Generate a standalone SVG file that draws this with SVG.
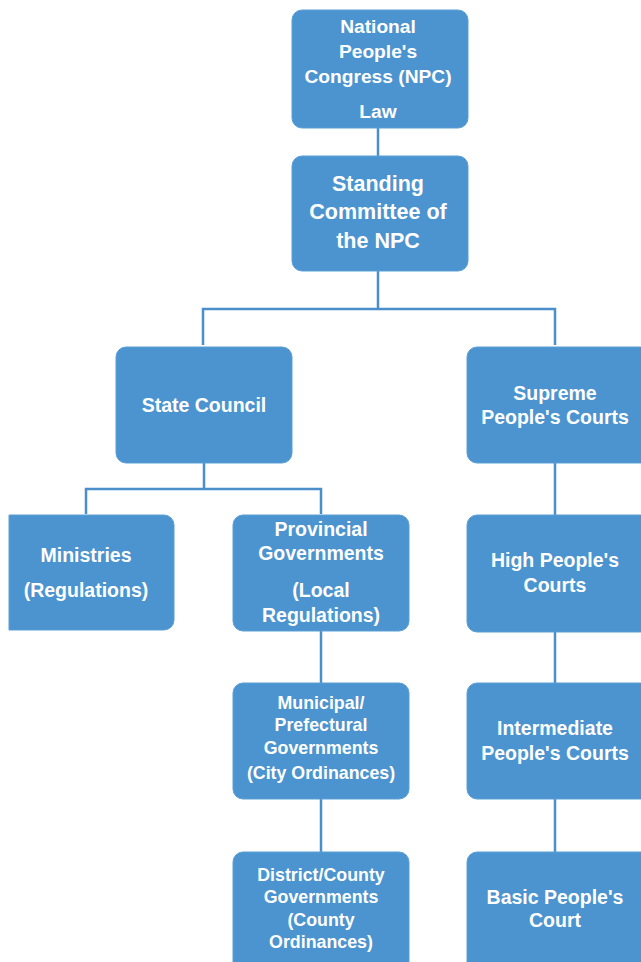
<svg xmlns="http://www.w3.org/2000/svg" width="641" height="962" viewBox="0 0 641 962">
<style>
.box{fill:#4B94CF;stroke:#5A9FD6;stroke-width:1}
.t{font-family:"Liberation Sans",Arial,sans-serif;font-weight:700;fill:#FFFFFF;text-anchor:middle}
.l{font-size:19.2px}
.xl{font-size:21.5px}
.m{font-size:19.5px}
.s{font-size:17.8px}
.con{fill:none;stroke:#4A8FCA;stroke-width:2.5}
</style>
<rect x="0" y="0" width="641" height="962" fill="#FFFFFF"/>
<g id="connectors">
<path class="con" d="M378 128V156"/>
<path class="con" d="M378 271V309M203 345V309H555V345"/>
<path class="con" d="M204 463V489M86 514V489H321V514"/>
<path class="con" d="M321 631V683"/>
<path class="con" d="M321 799V852"/>
<path class="con" d="M555 463V515"/>
<path class="con" d="M555 632V683"/>
<path class="con" d="M555 799V852"/>
</g>
<g id="npc">
<rect class="box" x="292" y="10" width="176" height="118" rx="10"/>
<text class="t l" x="378" y="33">National</text>
<text class="t l" x="378" y="58">People's</text>
<text class="t l" x="378" y="83">Congress (NPC)</text>
<text class="t l" x="378" y="118">Law</text>
</g>
<g id="standing">
<rect class="box" x="292" y="156" width="176" height="115" rx="10"/>
<text class="t xl" x="378" y="191">Standing</text>
<text class="t xl" x="378" y="219">Committee of</text>
<text class="t xl" x="378" y="248">the NPC</text>
</g>
<g id="state-council">
<rect class="box" x="116" y="347" width="176" height="116" rx="10"/>
<text class="t m" x="204" y="412">State Council</text>
</g>
<g id="supreme">
<rect class="box" x="467" y="347" width="186" height="116" rx="10"/>
<text class="t m" x="555" y="400">Supreme</text>
<text class="t m" x="555" y="424">People's Courts</text>
</g>
<g id="ministries">
<path class="box" d="M9 515H164A10 10 0 0 1 174 525V620A10 10 0 0 1 164 630H9Z"/>
<text class="t m" x="86" y="562">Ministries</text>
<text class="t m" x="86" y="597">(Regulations)</text>
</g>
<g id="provincial">
<rect class="box" x="233" y="515" width="176" height="116" rx="10"/>
<text class="t m" x="321" y="536">Provincial</text>
<text class="t m" x="321" y="560">Governments</text>
<text class="t m" x="321" y="597">(Local</text>
<text class="t m" x="321" y="622">Regulations)</text>
</g>
<g id="high">
<rect class="box" x="467" y="515" width="186" height="117" rx="10"/>
<text class="t m" x="555" y="567">High People's</text>
<text class="t m" x="555" y="592">Courts</text>
</g>
<g id="municipal">
<rect class="box" x="233" y="683" width="176" height="116" rx="10"/>
<text class="t s" x="321" y="709">Municipal/</text>
<text class="t s" x="321" y="731">Prefectural</text>
<text class="t s" x="321" y="754">Governments</text>
<text class="t s" x="321" y="779">(City Ordinances)</text>
</g>
<g id="intermediate">
<rect class="box" x="467" y="683" width="186" height="116" rx="10"/>
<text class="t m" x="555" y="735">Intermediate</text>
<text class="t m" x="555" y="760">People's Courts</text>
</g>
<g id="district">
<rect class="box" x="233" y="852" width="176" height="130" rx="10"/>
<text class="t s" x="321" y="881">District/County</text>
<text class="t s" x="321" y="903">Governments</text>
<text class="t s" x="321" y="926">(County</text>
<text class="t s" x="321" y="948">Ordinances)</text>
</g>
<g id="basic">
<rect class="box" x="467" y="852" width="186" height="130" rx="10"/>
<text class="t m" x="555" y="904">Basic People's</text>
<text class="t m" x="555" y="927">Court</text>
</g>
</svg>
